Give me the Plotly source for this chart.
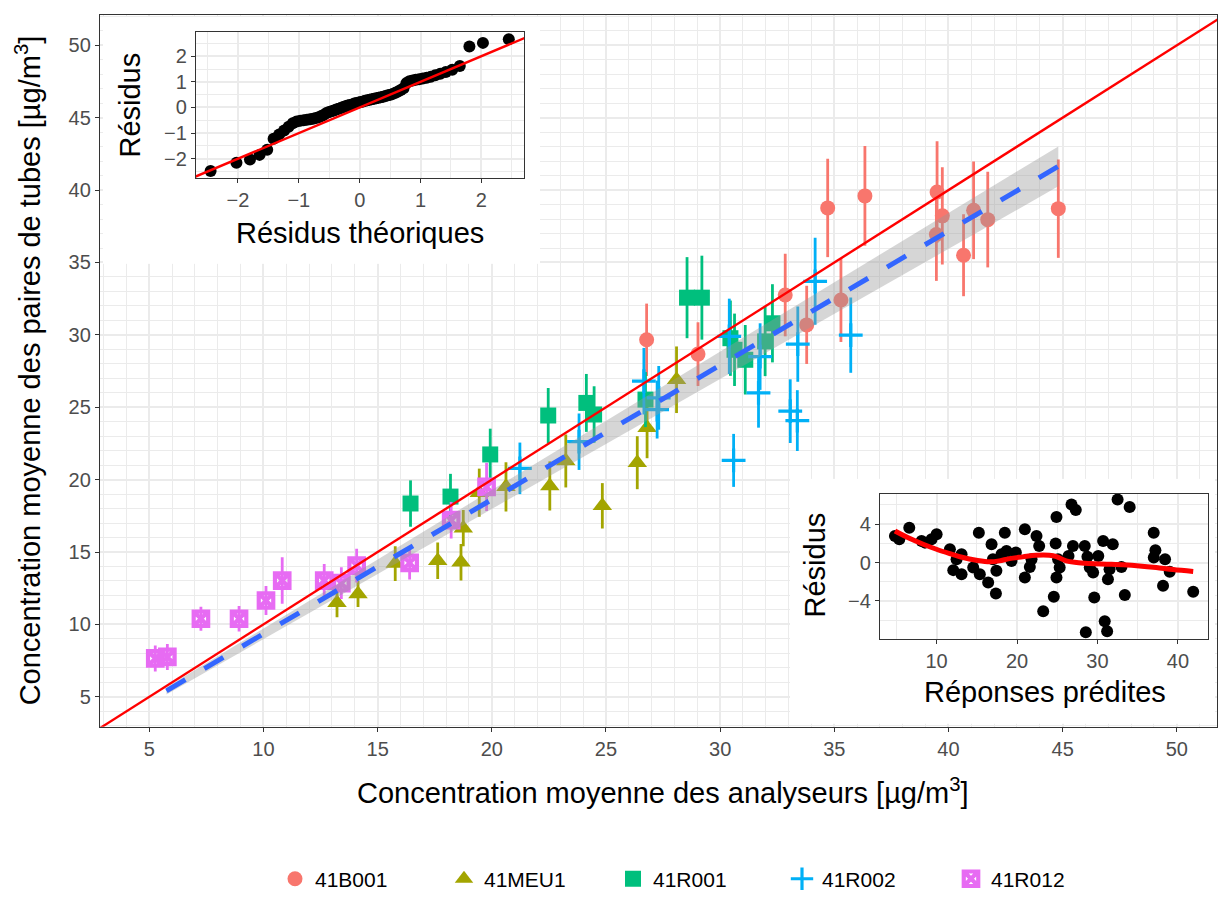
import plotly.graph_objects as go
from statistics import NormalDist

# ---------------------------------------------------------------- data
stations = ["41B001", "41MEU1", "41R001", "41R002", "41R012"]

# 41B001
b001_x = [26.78, 29.03, 32.85, 33.79, 34.71, 35.29, 36.34, 39.47, 39.50, 39.73, 40.66, 41.10, 41.72, 44.81]
b001_y = [29.66, 28.67, 32.75, 30.69, 38.77, 32.41, 39.60, 36.93, 39.87, 38.22, 35.50, 38.60, 37.96, 38.72]
b001_e = [2.50, 2.20, 2.85, 2.70, 3.40, 2.90, 3.45, 3.20, 3.50, 3.36, 2.83, 3.37, 3.30, 3.40]

# 41MEU1
meu1_x = [13.22, 14.14, 15.77, 17.63, 18.65, 18.75, 19.45, 20.62, 22.54, 23.24, 24.84, 26.37, 26.80, 28.09]
meu1_y = [11.50, 12.10, 14.20, 14.40, 14.29, 16.65, 19.10, 19.50, 19.56, 21.29, 18.19, 21.17, 23.58, 26.90]
meu1_e = [1.00, 0.90, 1.20, 1.26, 1.26, 1.26, 1.66, 1.70, 1.70, 1.83, 1.57, 1.83, 2.10, 2.30]

# 41R001
r001_x = [16.44, 18.19, 19.93, 22.47, 24.14, 24.48, 26.73, 28.55, 29.20, 30.45, 30.63, 31.10, 31.97, 32.29]
r001_y = [18.35, 18.83, 21.74, 24.43, 25.30, 24.50, 25.53, 32.57, 32.57, 29.77, 28.97, 28.28, 29.55, 30.80]
r001_e = [1.60, 1.57, 1.78, 1.90, 2.00, 1.95, 1.90, 2.80, 2.90, 2.60, 2.50, 2.40, 2.40, 2.70]

# 41R002
r002_x = [21.23, 23.82, 26.66, 27.24, 27.31, 30.40, 30.59, 31.68, 31.75, 33.07, 33.38, 33.40, 34.16, 35.72]
r002_y = [20.78, 22.62, 26.80, 24.84, 25.65, 29.90, 21.33, 25.99, 28.50, 24.73, 24.08, 29.36, 33.70, 29.98]
r002_e = [1.78, 1.95, 2.30, 2.00, 2.20, 2.60, 1.83, 2.40, 2.30, 2.20, 2.10, 2.60, 3.00, 2.60]

# 41R012
r012_x = [5.26, 5.79, 7.26, 8.93, 10.11, 10.82, 12.66, 13.41, 14.08, 16.40, 18.22, 19.77]
r012_y = [7.65, 7.75, 10.39, 10.39, 11.65, 13.03, 13.03, 12.85, 14.06, 14.25, 17.20, 19.50]
r012_e = [0.90, 0.90, 0.83, 0.88, 1.00, 1.60, 1.15, 1.10, 1.17, 1.15, 1.26, 1.66]

# identity line y = x
ident = [0, 60]

# regression line and its confidence band
fit_x = [5.75, 44.81]
fit_y = [5.41, 41.64]
band_x = [5.75, 10, 15, 20, 25, 30, 35, 40, 44.81]
band_lo = [5.16, 9.00, 13.49, 17.98, 22.47, 26.95, 31.44, 35.93, 40.26]
band_hi = [5.66, 9.70, 14.49, 19.28, 24.07, 28.85, 33.64, 38.43, 43.02]

# sorted standardised residuals (normal Q-Q)
qq_sample = [-2.48, -2.16, -2.03, -1.85, -1.65, -1.22, -1.05, -0.90, -0.75, -0.62,
             -0.55, -0.52, -0.50, -0.48, -0.46, -0.44, -0.41, -0.38, -0.33, -0.28,
             -0.22, -0.18, -0.15, -0.12, -0.08, -0.05, -0.02, 0.02, 0.05, 0.08,
             0.10, 0.12, 0.15, 0.17, 0.19, 0.21, 0.23, 0.26, 0.28, 0.30,
             0.32, 0.34, 0.36, 0.38, 0.40, 0.42, 0.45, 0.48, 0.50, 0.53,
             0.57, 0.62, 0.68, 0.75, 0.95, 1.02, 1.05, 1.08, 1.10, 1.13,
             1.16, 1.20, 1.26, 1.32, 1.38, 1.47, 1.62, 2.38, 2.52, 2.66]
qq_ref = [-3, 3]

# residuals vs fitted values
res_fit = [4.82, 5.36, 6.60, 8.13, 8.55, 9.37, 10.00, 11.65, 12.48, 13.10, 12.07, 13.10,
           15.25, 14.55, 15.37, 16.41, 16.83, 17.37, 17.43, 17.00, 18.07, 18.48, 18.69,
           19.31, 19.85, 20.97, 20.97, 21.59, 21.80, 22.42, 22.75, 23.25, 24.57, 24.90,
           24.80, 24.90, 25.30, 25.10, 26.77, 27.30, 26.40, 26.95, 28.42, 28.55, 28.75,
           29.04, 29.46, 29.60, 30.10, 30.70, 30.90, 31.20, 31.30, 31.50, 31.90, 32.50,
           32.98, 33.40, 34.00, 36.99, 37.00, 37.20, 38.15, 38.40, 38.98, 41.90]
res_val = [2.76, 2.42, 3.63, 2.25, 2.07, 2.42, 2.94, 1.38, 0.35, 0.86, -0.79, -1.21,
           3.11, -0.52, -1.21, -2.07, 1.90, -3.21, -0.86, 0.35, 0.86, 3.11, 1.21,
           0.17, 1.04, 3.45, -1.55, -0.46, 0.35, 2.76, 1.73, -5.08, -3.56, 4.73,
           1.97, -1.55, -0.52, 0.35, 6.04, 5.46, 0.69, 1.73, 1.73, -7.25, 0.59,
           -0.52, -1.03, -3.63, 0.69, 2.25, -6.11, -7.15, -1.73, -0.69, 1.90, 6.56,
           -0.46, -3.39, 5.77, 3.11, 0.52, 1.28, -2.42, 0.35, -0.97, -3.04]
loess_x = [4.82, 6.68, 8.33, 9.98, 11.63, 13.28, 14.93, 16.6, 17.8, 19.05, 20.7, 22.35,
           24.0, 24.9, 26.1, 27.4, 29.05, 31.1, 33.2, 35.2, 37.3, 39.4, 41.9]
loess_y = [3.28, 2.49, 1.90, 1.38, 0.93, 0.52, 0.24, 0.07, 0.17, 0.41, 0.59, 0.76,
           0.76, 0.62, 0.17, 0.0, -0.10, -0.17, -0.24, -0.35, -0.52, -0.73, -0.93]

# ---------------------------------------------------------------- style
W, H = 1219, 900
FONT = "Liberation Sans"
TICK_GREY = "#4D4D4D"
DARK = "#333333"
GRID = "#EBEBEB"
colors = ["#F8766D", "#A3A500", "#00BF7D", "#00B0F6", "#E76BF3"]


def dx(p0, p1):
    return [p0 / W, p1 / W]


def dy(top, bottom):
    return [1 - bottom / H, 1 - top / H]


def axis_style(domain, rng, dtick, minor, anchor, tick_size):
    return dict(
        domain=domain, range=rng, anchor=anchor, tick0=0, dtick=dtick,
        ticks="outside", ticklen=4, tickwidth=1.3, tickcolor=DARK,
        showline=True, mirror=True, linecolor=DARK, linewidth=1.4,
        showgrid=True, gridcolor=GRID, gridwidth=1.6, zeroline=False,
        minor=dict(tick0=0, dtick=minor, showgrid=True, gridcolor=GRID, gridwidth=0.8, ticks=""),
        tickfont=dict(family=FONT, size=tick_size, color=TICK_GREY),
    )


def blank_axis(domain, anchor):
    return dict(domain=domain, anchor=anchor, range=[0, 1], showgrid=False, zeroline=False,
                showline=False, showticklabels=False, ticks="")


fig = go.Figure()

# ---------------------------------------------------------------- main panel
series = [
    (b001_x, b001_y, b001_e, dict(symbol="circle", size=15)),
    (meu1_x, meu1_y, meu1_e, dict(symbol="triangle-up", size=17)),
    (r001_x, r001_y, r001_e, dict(symbol="square", size=16)),
    (r002_x, r002_y, r002_e, dict(symbol="cross-thin", size=17)),
    (r012_x, r012_y, r012_e, dict(symbol="square-x-open", size=14.5)),
]
for name, col, (xs, ys, es, mk) in zip(stations, colors, series):
    lw = 4.2 if mk["symbol"] == "square-x-open" else 3.2
    marker = dict(color=col, line=dict(color=col, width=lw), **mk)
    if mk["symbol"] in ("circle", "triangle-up", "square"):
        marker["line"] = dict(width=0)
    fig.add_trace(go.Scatter(
        x=xs, y=ys, mode="markers", name=name, marker=marker,
        error_y=dict(type="data", array=es, visible=True, width=0, thickness=2.8, color=col),
        xaxis="x", yaxis="y",
    ))

fig.add_trace(go.Scatter(x=ident, y=ident, mode="lines", line=dict(color="#FF0000", width=2.4),
                         showlegend=False, hoverinfo="skip", xaxis="x", yaxis="y"))
fig.add_trace(go.Scatter(x=band_x, y=band_lo, mode="lines", line=dict(width=0),
                         showlegend=False, hoverinfo="skip", xaxis="x", yaxis="y"))
fig.add_trace(go.Scatter(x=band_x, y=band_hi, mode="lines", line=dict(width=0), fill="tonexty",
                         fillcolor="rgba(153,153,153,0.4)", showlegend=False, hoverinfo="skip",
                         xaxis="x", yaxis="y"))
fig.add_trace(go.Scatter(x=fit_x, y=fit_y, mode="lines",
                         line=dict(color="#3366FF", width=5, dash="22px,22px"),
                         showlegend=False, hoverinfo="skip", xaxis="x", yaxis="y"))

# ---------------------------------------------------------------- Q-Q inset
n = len(qq_sample)
qq_theo = [NormalDist().inv_cdf((i + 0.5) / n) for i in range(n)]
fig.add_trace(go.Scatter(x=[None], y=[None], mode="markers", showlegend=False,
                         hoverinfo="skip", xaxis="x2", yaxis="y2"))
fig.add_trace(go.Scatter(x=qq_theo, y=qq_sample, mode="markers",
                         marker=dict(color="black", size=12), showlegend=False,
                         xaxis="x3", yaxis="y3"))
fig.add_trace(go.Scatter(x=qq_ref, y=qq_ref, mode="lines", line=dict(color="#FF0000", width=2.4),
                         showlegend=False, hoverinfo="skip", xaxis="x3", yaxis="y3"))

# ---------------------------------------------------------------- residual inset
fig.add_trace(go.Scatter(x=[None], y=[None], mode="markers", showlegend=False,
                         hoverinfo="skip", xaxis="x4", yaxis="y4"))
fig.add_trace(go.Scatter(x=res_fit, y=res_val, mode="markers",
                         marker=dict(color="black", size=12), showlegend=False,
                         xaxis="x5", yaxis="y5"))
fig.add_trace(go.Scatter(x=loess_x, y=loess_y, mode="lines", line_shape="spline",
                         line=dict(color="#FF0000", width=5), showlegend=False,
                         hoverinfo="skip", xaxis="x5", yaxis="y5"))

# ---------------------------------------------------------------- layout
title_font = dict(family=FONT, size=29, color="black")


def label(text, x, y, angle=0):
    return dict(text=text, x=x / W, y=1 - y / H, xref="paper", yref="paper",
                showarrow=False, textangle=angle, font=title_font,
                xanchor="center", yanchor="middle")


fig.update_layout(
    width=W, height=H, template="none",
    margin=dict(l=0, r=0, t=0, b=0),
    paper_bgcolor="white", plot_bgcolor="white",
    font=dict(family=FONT, color="black"),
    xaxis=axis_style(dx(100, 1217), [2.84, 51.76], 5, 1, "y", 20),
    yaxis=axis_style(dy(15, 730), [2.93, 52.1], 5, 1, "x", 20),
    xaxis2=blank_axis(dx(103, 540), "y2"),
    yaxis2=blank_axis(dy(17, 265), "x2"),
    xaxis3=axis_style(dx(196, 524), [-2.69, 2.70], 1, 0.5, "y3", 20),
    yaxis3=axis_style(dy(32, 179), [-2.76, 2.95], 1, 0.5, "x3", 20),
    xaxis4=blank_axis(dx(790, 1215), "y4"),
    yaxis4=blank_axis(dy(481, 727), "x4"),
    xaxis5=axis_style(dx(880, 1208), [2.96, 43.74], 10, 5, "y5", 20),
    yaxis5=axis_style(dy(496, 642), [-7.97, 7.15], 4, 2, "x5", 20),
    legend=dict(orientation="h", x=0.5 + 88 / W, xanchor="center", y=1 - 883 / H,
                yanchor="middle", traceorder="normal",
                font=dict(family=FONT, size=21, color="black"), bgcolor="rgba(0,0,0,0)",
                entrywidth=124),
    annotations=[
        label("Concentration moyenne des analyseurs [µg/m<sup>3</sup>]", 663, 795),
        label("Concentration moyenne des paires de tubes [µg/m<sup>3</sup>]", 28, 372, -90),
        label("Résidus", 130, 106, -90),
        label("Résidus théoriques", 360, 234),
        label("Résidus", 815, 568, -90),
        label("Réponses prédites", 1045, 695),
    ],
)

fig.write_html("out.html")
